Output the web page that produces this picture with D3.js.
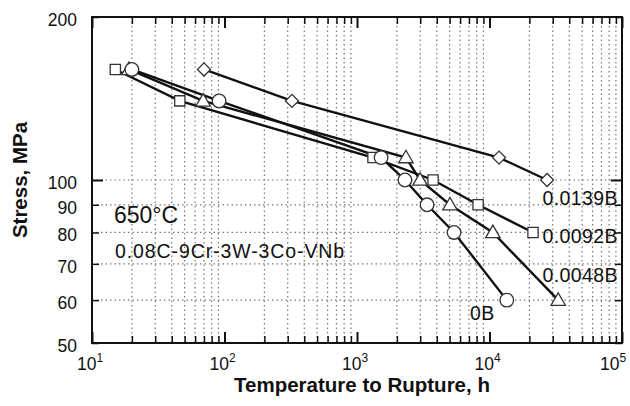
<!DOCTYPE html>
<html><head><meta charset="utf-8">
<script src="https://cdn.jsdelivr.net/npm/d3@7"></script>
<style>body{margin:0;background:#fff}svg{display:block}text{font-family:"Liberation Sans",Arial,sans-serif;fill:#111}</style>
</head><body><svg id="c" width="630" height="406"></svg>
<script>
// Data
const seriesNames = ["0B", "0.0048B", "0.0092B", "0.0139B"];
const markerTypes = ["circle", "triangle", "square", "diamond"];
const time0B    = [20, 91, 1520, 2300, 3380, 5400, 13500];
const stress0B  = [160, 140, 110, 100, 90, 80, 60];
const time0048  = [19, 69, 2340, 2990, 5030, 10600, 33000];
const stress0048 = [160, 140, 110, 100, 90, 80, 60];
const time0092  = [15, 46, 1320, 3750, 8200, 21300];
const stress0092 = [160, 140, 110, 100, 90, 80];
const time0139  = [70, 323, 11800, 27200];
const stress0139 = [160, 140, 110, 100];
const xTickExps = [1, 2, 3, 4, 5];
const yTickLabels = [50, 60, 70, 80, 90, 100, 200];
const yGridValues = [60, 70, 80, 90, 100];

const svg = d3.select("#c");
const L = 92, R = 622, T = 17, B = 343;
const x = d3.scaleLog().domain([10, 1e5]).range([L, R]);
const y = d3.scaleLog().domain([50, 200]).range([B, T]);

const series = [
  {name: seriesNames[0], m: markerTypes[0], t: time0B, s: stress0B},
  {name: seriesNames[1], m: markerTypes[1], t: time0048, s: stress0048},
  {name: seriesNames[2], m: markerTypes[2], t: time0092, s: stress0092},
  {name: seriesNames[3], m: markerTypes[3], t: time0139, s: stress0139}
];

const xMinor = [];
for (let e = 1; e < 5; e++) for (let k = 2; k <= 9; k++) xMinor.push(k * Math.pow(10, e));
const xMajor = xTickExps.map(e => Math.pow(10, e));

const grid = svg.append("g").attr("stroke", "#777").attr("stroke-width", 1.2).attr("stroke-dasharray", "1.5,3");
grid.selectAll("line.v").data(xMinor).join("line")
  .attr("x1", d => x(d)).attr("x2", d => x(d)).attr("y1", T).attr("y2", B);
grid.selectAll("line.h").data(yGridValues).join("line")
  .attr("x1", L).attr("x2", R).attr("y1", d => y(d)).attr("y2", d => y(d));

const axB = d3.axisBottom(x).tickValues(xMinor.concat(xMajor)).tickSize(-7).tickFormat("");
const gB = svg.append("g").attr("transform", `translate(0,${B})`).call(axB);
const axT = d3.axisTop(x).tickValues(xMinor.concat(xMajor)).tickSize(-7).tickFormat("");
const gT = svg.append("g").attr("transform", `translate(0,${T})`).call(axT);
[gB, gT].forEach(g => {
  g.select(".domain").remove();
  g.selectAll(".tick line").attr("stroke", "#111").attr("stroke-width", 1.5);
  g.selectAll(".tick").filter(d => xMajor.includes(d)).select("line").attr("y2", g === gB ? -11 : 11).attr("stroke-width", 2);
});
const axL = d3.axisLeft(y).tickValues(yTickLabels).tickSize(-7).tickFormat("");
const gL = svg.append("g").attr("transform", `translate(${L},0)`).call(axL);
const axR = d3.axisRight(y).tickValues(yTickLabels).tickSize(-7).tickFormat("");
const gR = svg.append("g").attr("transform", `translate(${R},0)`).call(axR);
[gL, gR].forEach(g => {
  g.select(".domain").remove();
  g.selectAll(".tick line").attr("stroke", "#111").attr("stroke-width", 1.5);
  g.selectAll(".tick").filter(d => d === 100).select("line").attr("x2", g === gL ? 11 : -11).attr("stroke-width", 2);
});

svg.append("rect").attr("x", L).attr("y", T).attr("width", R - L).attr("height", B - T)
  .attr("fill", "none").attr("stroke", "#111").attr("stroke-width", 2);

// tick labels
svg.append("g").selectAll("text").data(yTickLabels).join("text")
  .attr("x", 77).attr("y", d => y(d) + 9).attr("text-anchor", "end").attr("font-size", 17.5).text(d => d);
const xl = svg.append("g").selectAll("text").data(xTickExps).join("text")
  .attr("x", d => Math.min(x(Math.pow(10, d)) - 15, 600)).attr("y", 370).attr("font-size", 17.5);
xl.append("tspan").text("10");
xl.append("tspan").attr("dy", -8).attr("font-size", 12).text(d => d);

// axis titles
svg.append("text").attr("x", 362).attr("y", 392).attr("text-anchor", "middle")
  .attr("font-size", 20.5).attr("font-weight", "bold").text("Temperature to Rupture, h");
svg.append("text").attr("transform", "translate(27,180) rotate(-90)").attr("text-anchor", "middle")
  .attr("font-size", 20.5).attr("font-weight", "bold").text("Stress, MPa");

// lines
const line = d3.line().x(d => x(d[0])).y(d => y(d[1]));
const gLines = svg.append("g");
series.forEach(s => {
  const pts = s.t.map((t, i) => [t, s.s[i]]);
  gLines.append("path").datum(pts).attr("d", line).attr("fill", "none").attr("stroke", "#111").attr("stroke-width", 2.4);
});

// markers
const sym = {circle: d3.symbolCircle, triangle: d3.symbolTriangle, square: d3.symbolSquare, diamond: d3.symbolSquare};
const size = {circle: 145, triangle: 90, square: 105, diamond: 85};
const extra = {circle: "", triangle: " translate(0,1)", square: "", diamond: " rotate(45)"};
const order = [1, 2, 3, 0];
order.forEach(i => {
  const s = series[i];
  const pts = s.t.map((t, j) => [t, s.s[j]]);
  svg.append("g").selectAll("path").data(pts).join("path")
    .attr("transform", d => `translate(${x(d[0])},${y(d[1])})` + extra[s.m])
    .attr("d", d3.symbol().type(sym[s.m]).size(size[s.m]))
    .attr("fill", "#fff").attr("stroke", "#333").attr("stroke-width", 1.3);
});

// series labels
const labelPos = {"0.0139B": [618, 205, "end"], "0.0092B": [618, 243, "end"], "0.0048B": [618, 282, "end"], "0B": [470, 320, "start"]};
svg.append("g").selectAll("text").data(seriesNames).join("text")
  .attr("x", d => labelPos[d][0]).attr("y", d => labelPos[d][1]).attr("text-anchor", d => labelPos[d][2])
  .attr("font-size", 19.5).attr("letter-spacing", 0.4).text(d => d);

svg.append("text").attr("x", 114).attr("y", 223).attr("font-size", 23).text("650°C");
svg.append("text").attr("x", 115).attr("y", 258).attr("font-size", 19.5).attr("letter-spacing", 0.9).text("0.08C-9Cr-3W-3Co-VNb");
</script></body></html>
